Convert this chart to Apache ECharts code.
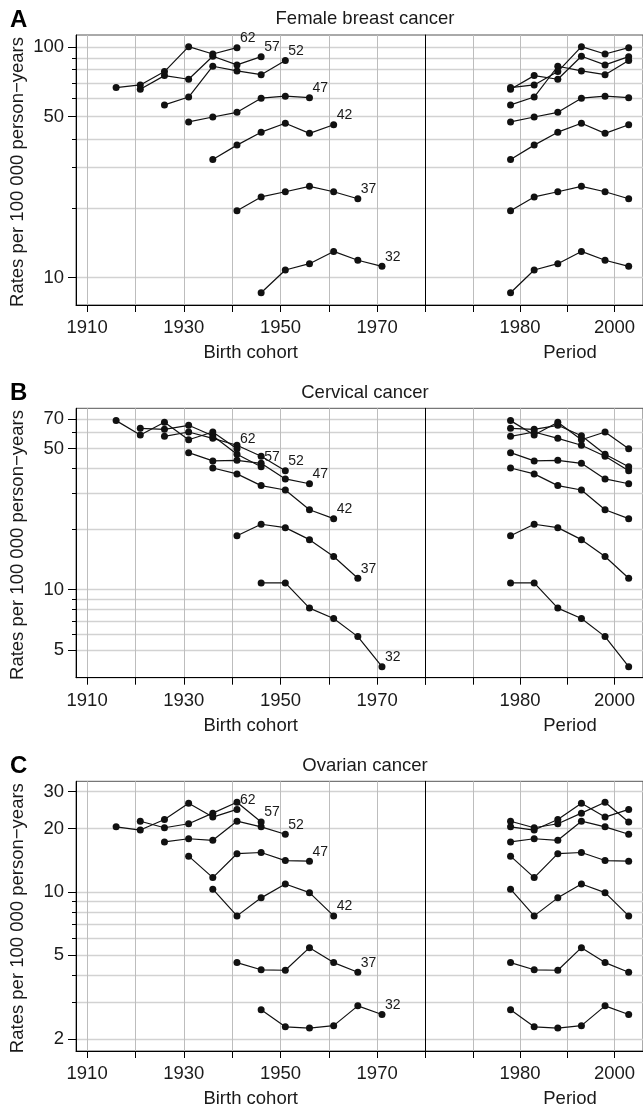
<!DOCTYPE html>
<html lang="en">
<head>
<meta charset="UTF-8" />
<title>Rates by birth cohort and period</title>
<script src="https://cdn.jsdelivr.net/npm/echarts@6.0.0/dist/echarts.min.js"></script>
<style>
* { margin: 0; padding: 0; }
html, body { height: 100%; background: #fff; }
</style>
</head>
<body>
<div id="main" style="width:643px;height:1110px;"></div>
<script type="text/javascript">
// periods (mid-year) and age groups (mid-age)
var periods = [1978, 1983, 1988, 1993, 1998, 2003];
var ages = [32, 37, 42, 47, 52, 57, 62];

// rates per 100 000 person-years, one row per age group, one value per period
var breastRates = [
	[8.6, 10.8, 11.5, 13.0, 11.9, 11.2],
	[19.5, 22.4, 23.6, 24.9, 23.6, 22.0],
	[32.6, 37.6, 42.8, 46.8, 42.3, 46.1],
	[47.4, 49.8, 52.2, 60.1, 61.3, 60.4],
	[56.2, 60.8, 82.7, 78.9, 76.0, 87.5],
	[65.7, 75.3, 72.6, 91.4, 83.8, 91.0],
	[66.8, 68.6, 78.4, 100.6, 93.5, 99.6]
];
var cervicalRates = [
	[10.8, 10.8, 8.1, 7.2, 5.85, 4.15],
	[18.5, 21.1, 20.3, 17.7, 14.6, 11.4],
	[40.1, 37.5, 32.8, 31.2, 24.9, 22.5],
	[47.8, 43.5, 43.8, 42.3, 35.4, 33.5],
	[57.6, 60.5, 56.3, 52.0, 45.9, 38.9],
	[63.1, 62.4, 65.3, 58.0, 46.9, 40.7],
	[68.9, 58.5, 67.6, 55.4, 60.5, 50.0]
];
var ovarianRates = [
	[2.75, 2.28, 2.25, 2.31, 2.87, 2.61],
	[4.61, 4.26, 4.24, 5.43, 4.61, 4.15],
	[10.3, 7.69, 9.37, 10.9, 9.92, 7.69],
	[14.8, 11.7, 15.2, 15.4, 14.1, 14.0],
	[17.3, 17.9, 17.6, 21.7, 20.4, 18.8],
	[21.7, 20.2, 21.1, 23.7, 26.7, 21.5],
	[20.4, 19.7, 22.1, 26.4, 22.7, 24.7]
];

// y gridlines and labelled ticks
var breastGridLines = [10, 20, 30, 40, 50, 60, 70, 80, 90, 100];
var breastTicks = [10, 50, 100];
var cervicalGridLines = [5, 6, 7, 8, 9, 10, 20, 30, 40, 50, 60, 70];
var cervicalTicks = [5, 10, 50, 70];
var ovarianGridLines = [2, 3, 4, 5, 6, 7, 8, 9, 10, 20, 30];
var ovarianTicks = [2, 5, 10, 20, 30];

// x ticks
var cohortTicks = [1910, 1920, 1930, 1940, 1950, 1960, 1970, 1980];
var cohortLabels = [1910, 1930, 1950, 1970];
var periodTicks = [1960, 1970, 1980, 1990, 2000];
var periodLabels = [1980, 2000];

var FONT = "'Liberation Sans', Arial, sans-serif";
var TXT = "#1a1a1a";
var FS = 18.5;

var panels = [
	{ letter: "A", title: "Female breast cancer", rates: breastRates, lines: breastGridLines, ticks: breastTicks, top: 35, height: 270, ymin: 7.61, ymax: 113 },
	{ letter: "B", title: "Cervical cancer", rates: cervicalRates, lines: cervicalGridLines, ticks: cervicalTicks, top: 408.3, height: 269.4, ymin: 3.66, ymax: 79.3 },
	{ letter: "C", title: "Ovarian cancer", rates: ovarianRates, lines: ovarianGridLines, ticks: ovarianTicks, top: 781.3, height: 269.7, ymin: 1.75, ymax: 33.6 }
];

function lg(v) { return Math.log10(v); }

var grids = [], xAxes = [], yAxes = [], series = [], graphics = [];

panels.forEach(function (p, k) {
	var gL = 2 * k, gR = 2 * k + 1;
	grids.push({ left: 76, top: p.top, width: 349.5, height: p.height, show: true, borderColor: "#555", borderWidth: 1 });
	grids.push({ left: 425.5, top: p.top, width: 222.5, height: p.height, show: true, borderColor: "#555", borderWidth: 1 });

	var xCommon = {
		type: "value",
		axisLine: { lineStyle: { color: "#000", width: 1 } },
		axisTick: { length: 7, lineStyle: { color: "#000" } },
		axisLabel: { margin: 13.5, color: TXT, fontSize: FS, fontFamily: FONT, formatter: function (v) { return String(v); } },
		splitLine: { show: true, lineStyle: { color: "#bdbdbd", width: 1 } }
	};
	xAxes.push(echarts.util.merge({
		gridIndex: gL, min: 1907.7, max: 1980,
		axisTick: { customValues: cohortTicks },
		axisLabel: { customValues: cohortLabels }
	}, xCommon));
	xAxes.push(echarts.util.merge({
		gridIndex: gR, min: 1960, max: 2006.03,
		axisTick: { customValues: periodTicks },
		axisLabel: { customValues: periodLabels }
	}, xCommon));

	var ymin = lg(p.ymin), ymax = lg(p.ymax);
	// data axis: gridlines and short ticks
	yAxes.push({
		type: "value", gridIndex: gL, min: ymin, max: ymax, position: "left",
		axisLine: { show: true, lineStyle: { color: "#000", width: 1 } },
		axisTick: { show: true, length: 4, customValues: p.lines.map(lg), lineStyle: { color: "#000" } },
		axisLabel: { show: false },
		splitLine: { show: true, lineStyle: { color: "#d2d2d2", width: 1.4 } }
	});
	// labelled ticks
	yAxes.push({
		type: "value", gridIndex: gL, min: ymin, max: ymax, position: "left",
		axisLine: { show: false },
		axisTick: { show: true, length: 8, customValues: p.ticks.map(lg), lineStyle: { color: "#000" } },
		axisLabel: {
			customValues: p.ticks.map(lg), margin: 12, color: TXT, fontSize: FS, fontFamily: FONT,
			formatter: function (v) { return String(Math.round(Math.pow(10, v))); }
		},
		splitLine: { show: false }
	});
	// period panel: divider line on its left
	yAxes.push({
		type: "value", gridIndex: gR, min: ymin, max: ymax, position: "left",
		axisLine: { show: true, lineStyle: { color: "#000", width: 1 } },
		axisTick: { show: false, customValues: p.lines.map(lg) },
		axisLabel: { show: false },
		splitLine: { show: true, lineStyle: { color: "#d2d2d2", width: 1.4 } }
	});

	ages.forEach(function (age, i) {
		var row = p.rates[i];
		var cohortData = periods.map(function (per, j) {
			var item = { value: [per - age, lg(row[j])] };
			if (j === periods.length - 1) {
				item.label = {
					show: true, formatter: String(age), position: [6.5, -6],
					align: "left", verticalAlign: "middle",
					fontSize: 14, color: TXT, fontFamily: FONT
				};
			}
			return item;
		});
		var periodData = periods.map(function (per, j) { return [per, lg(row[j])]; });
		var style = {
			type: "line", symbol: "circle", symbolSize: 7, showSymbol: true,
			itemStyle: { color: "#111" }, lineStyle: { color: "#111", width: 1.2 },
			emphasis: { disabled: true }, animation: false
		};
		series.push(echarts.util.merge({ name: p.letter + "c" + age, xAxisIndex: gL, yAxisIndex: 3 * k, data: cohortData }, style));
		series.push(echarts.util.merge({ name: p.letter + "p" + age, xAxisIndex: gR, yAxisIndex: 3 * k + 2, data: periodData }, style));
	});

	var axisY = p.top + p.height;
	graphics.push({ type: "text", left: 10, top: p.top - 27, style: { text: p.letter, font: "bold 24px " + FONT, fill: "#000" } });
	graphics.push({ type: "text", x: 365, y: p.top - 15.8, style: { text: p.title, x: 0, y: 0, align: "center", verticalAlign: "middle", font: FS + "px " + FONT, fill: TXT } });
	graphics.push({ type: "text", x: 250.7, y: axisY + 47.8, style: { text: "Birth cohort", x: 0, y: 0, align: "center", verticalAlign: "middle", font: FS + "px " + FONT, fill: TXT } });
	graphics.push({ type: "text", x: 570, y: axisY + 47.8, style: { text: "Period", x: 0, y: 0, align: "center", verticalAlign: "middle", font: FS + "px " + FONT, fill: TXT } });
	graphics.push({ type: "text", x: 18.3, y: p.top + p.height / 2 + 2, rotation: Math.PI / 2, style: { text: "Rates per 100 000 person\u2212years", x: 0, y: 0, align: "center", verticalAlign: "middle", font: FS + "px " + FONT, fill: TXT } });
});

var myChart = echarts.init(document.getElementById("main"));
myChart.setOption({
	animation: false,
	backgroundColor: "#fff",
	grid: grids,
	xAxis: xAxes,
	yAxis: yAxes,
	series: series,
	graphic: graphics
});
</script>
</body>
</html>
